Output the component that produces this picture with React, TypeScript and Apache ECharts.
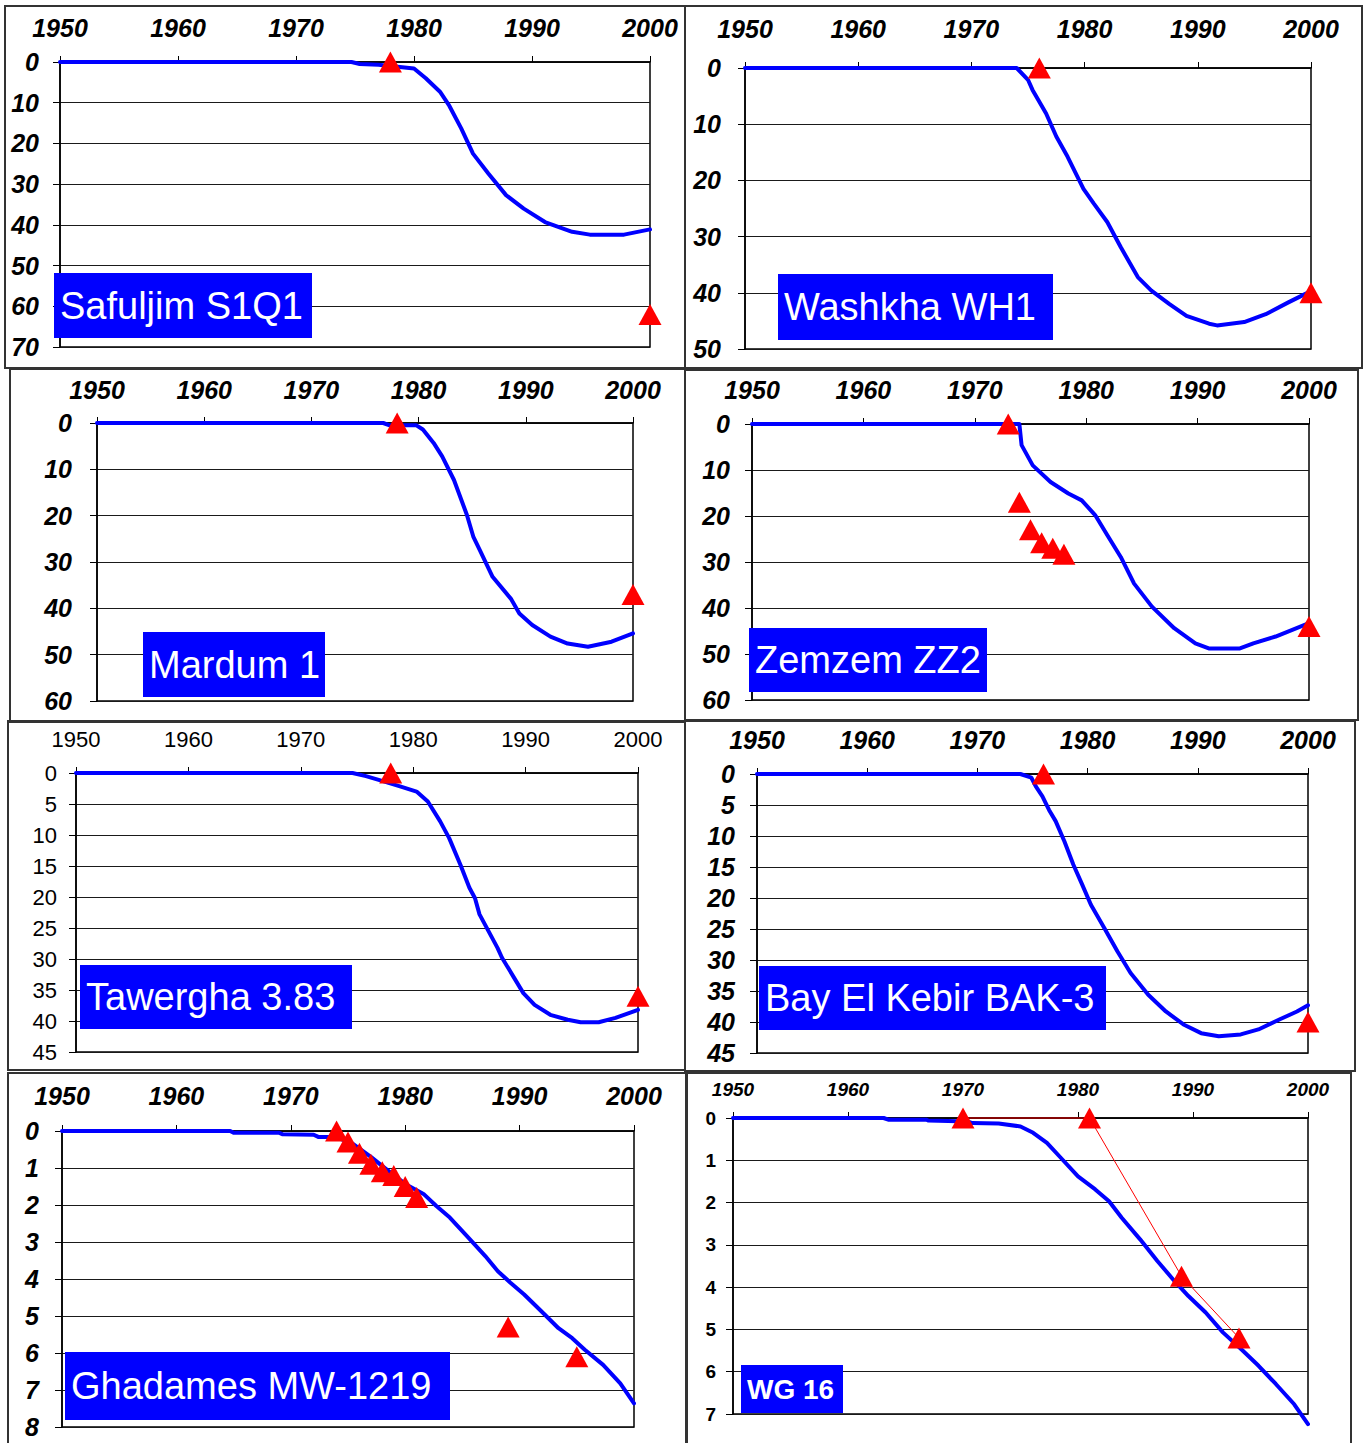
import React, { useEffect, useRef } from "react";
import * as echarts from "echarts";

// ---------- data (year, depth of water level below ground, m) ----------
const yearTicks = [1950, 1960, 1970, 1980, 1990, 2000];

const safuljimYears = [1950, 1974.7, 1975.4, 1977, 1979, 1980, 1981, 1982.2, 1983, 1984, 1985, 1986.3, 1987.8, 1989.3, 1991.1, 1993.4, 1994.9, 1997.8, 2000];
const safuljimDepth = [0, 0, 0.5, 0.7, 1.3, 1.6, 4, 7.3, 10.8, 16.3, 22.5, 27.4, 32.7, 36, 39.3, 41.7, 42.4, 42.4, 41.1];
const safuljimObsYears = [1978, 2000];
const safuljimObsDepth = [0, 62];

const washkhaYears = [1950, 1974, 1975, 1975.4, 1976.6, 1977.5, 1978.5, 1979.9, 1980.8, 1982, 1983.2, 1984.7, 1985.9, 1987.5, 1989, 1991, 1991.7, 1994.1, 1996, 1998, 2000];
const washkhaDepth = [0, 0, 2.1, 3.9, 8.1, 12.2, 15.8, 21.5, 24.1, 27.4, 31.9, 37.2, 39.6, 42, 44.1, 45.5, 45.8, 45.2, 43.8, 41.7, 39.7];
const washkhaObsYears = [1976, 2000];
const washkhaObsDepth = [0, 40];

const mardumYears = [1950, 1976.7, 1977.3, 1979.8, 1980.4, 1981.4, 1982.2, 1983.3, 1984.5, 1985.1, 1985.7, 1986.9, 1988.6, 1989.4, 1990.6, 1992.3, 1993.9, 1995.8, 1998, 2000];
const mardumDepth = [0, 0, 0.5, 0.5, 1.4, 4.3, 7.2, 12.3, 19.8, 24.5, 27.4, 33.2, 37.9, 41.1, 43.6, 46.1, 47.6, 48.3, 47.2, 45.4];
const mardumObsYears = [1978, 2000];
const mardumObsDepth = [0, 37];

const zemzemYears = [1950, 1974, 1974.2, 1975.2, 1976.8, 1978.4, 1979.6, 1980.8, 1981.9, 1983.1, 1984.3, 1985.9, 1987.9, 1989.8, 1991, 1993.8, 1995, 1997, 2000];
const zemzemDepth = [0, 0, 4.6, 9, 12.6, 15.1, 16.6, 19.8, 24.2, 28.9, 34.7, 39.7, 44.4, 47.7, 48.8, 48.8, 47.7, 46.2, 43.3];
const zemzemObsYears = [1973, 1974, 1975, 1976, 1977, 1978, 2000];
const zemzemObsDepth = [0, 17, 23, 25.8, 27, 28.3, 44];

const tawerghaYears = [1950, 1974.6, 1975.8, 1977.3, 1978.9, 1980.3, 1981.3, 1982.4, 1983.2, 1984.2, 1985, 1985.5, 1985.9, 1986.7, 1987.5, 1987.9, 1988.9, 1989.8, 1990.8, 1992.2, 1993.75, 1994.9, 1996.5, 1998, 2000];
const tawerghaDepth = [0, 0, 0.5, 1.3, 2.2, 3, 4.6, 7.8, 10.5, 14.8, 18.5, 20.2, 22.8, 25.5, 28.2, 29.8, 32.8, 35.5, 37.4, 39, 39.8, 40.2, 40.2, 39.5, 38.2];
const tawerghaObsYears = [1978, 2000];
const tawerghaObsDepth = [0, 36];

const kebirYears = [1950, 1973.9, 1974.9, 1975.3, 1975.9, 1976.5, 1977.1, 1977.9, 1978.7, 1979.5, 1980.3, 1981.5, 1982.7, 1983.9, 1985.5, 1987.1, 1988.7, 1990.3, 1991.9, 1993.9, 1995.5, 1997.4, 1999, 2000];
const kebirDepth = [0, 0, 0.6, 2, 3.6, 5.8, 7.6, 10.9, 14.6, 17.8, 21.1, 24.8, 28.6, 32.1, 35.6, 38.3, 40.4, 41.8, 42.3, 42, 41.2, 39.6, 38.3, 37.3];
const kebirObsYears = [1976, 2000];
const kebirObsDepth = [0, 40];

const ghadamesYears = [1950, 1964.7, 1965, 1969, 1969.3, 1972, 1972.4, 1973.9, 1975.4, 1977, 1978.5, 1980, 1981.6, 1982.7, 1983.9, 1985.4, 1987, 1988.1, 1989.2, 1990.4, 1991.9, 1993.4, 1994.6, 1995.7, 1997.3, 1998.8, 2000];
const ghadamesDepth = [0, 0, 0.05, 0.05, 0.09, 0.1, 0.16, 0.16, 0.34, 0.7, 1.07, 1.43, 1.7, 2.02, 2.34, 2.84, 3.38, 3.79, 4.1, 4.42, 4.87, 5.33, 5.6, 5.91, 6.32, 6.82, 7.36];
const ghadamesObsYears = [1974, 1975, 1976, 1977, 1978, 1979, 1980, 1981, 1989, 1995];
const ghadamesObsDepth = [0, 0.3, 0.6, 0.9, 1.1, 1.2, 1.5, 1.8, 5.3, 6.1];

const wg16Years = [1950, 1963.1, 1963.5, 1966.8, 1967, 1970.4, 1970.8, 1973.1, 1975, 1976.1, 1977.3, 1978.5, 1980, 1981.5, 1982.7, 1983.8, 1985.4, 1986.9, 1988.4, 1989.6, 1991.1, 1992.6, 1994.2, 1995.7, 1997.2, 1998.8, 2000];
const wg16Depth = [0, 0, 0.04, 0.04, 0.06, 0.08, 0.12, 0.13, 0.2, 0.35, 0.59, 0.94, 1.38, 1.69, 1.97, 2.36, 2.87, 3.38, 3.86, 4.21, 4.6, 5.07, 5.47, 5.86, 6.29, 6.77, 7.24];
const wg16ObsYears = [1970, 1981, 1989, 1994];
const wg16ObsDepth = [0, 0, 3.74, 5.2];

const wellNames = ["Safuljim S1Q1", "Washkha WH1", "Mardum 1", "Zemzem ZZ2", "Tawergha 3.83", "Bay El Kebir BAK-3", "Ghadames MW-1219", "WG 16"];
const depthMax = [70, 50, 60, 60, 45, 45, 8, 7];
const depthStep = [10, 10, 10, 10, 5, 5, 1, 1];

// ---------- layout / style ----------
const FONT = "'Liberation Sans', Arial, Helvetica, sans-serif";
const BLUE = "#0000ff";
const RED = "#ff0000";

type Font = { size: number; weight: string; style: string; margin: number };
type Layout = {
  grid: [number, number, number, number];
  frame: [number, number, number, number];
  box: [number, number, number, number];
  xFont: Font;
  yFont: Font;
  boxFont: { size: number; weight: string };
};

const bi = (size: number, margin: number): Font => ({ size, weight: "bold", style: "italic", margin });

const layouts: Layout[] = [
  { grid: [60, 62, 590, 285], frame: [5, 6, 680, 362], box: [54, 273, 258, 65], xFont: bi(25, 22), yFont: bi(25, 21), boxFont: { size: 38, weight: "normal" } },
  { grid: [745, 68, 566, 281], frame: [685, 6, 677, 362], box: [778, 274, 275, 66], xFont: bi(25, 27), yFont: bi(25, 24), boxFont: { size: 38, weight: "normal" } },
  { grid: [97, 423, 536, 278], frame: [10, 369, 675, 353], box: [143, 632, 182, 65], xFont: bi(25, 21), yFont: bi(25, 25), boxFont: { size: 38, weight: "normal" } },
  { grid: [752, 424, 557, 276], frame: [685, 370, 673, 350], box: [749, 628, 238, 64], xFont: bi(25, 22), yFont: bi(25, 22), boxFont: { size: 38, weight: "normal" } },
  { grid: [76, 773, 562, 279], frame: [8, 721, 677, 349], box: [80, 965, 272, 64], xFont: { size: 22, weight: "normal", style: "normal", margin: 23 }, yFont: { size: 22, weight: "normal", style: "normal", margin: 19 }, boxFont: { size: 38, weight: "normal" } },
  { grid: [757, 774, 551, 279], frame: [685, 721, 670, 350], box: [759, 966, 347, 64], xFont: bi(25, 22), yFont: bi(25, 22), boxFont: { size: 38, weight: "normal" } },
  { grid: [62, 1131, 572, 296], frame: [8, 1073, 678, 380], box: [65, 1352, 385, 68], xFont: bi(25, 23), yFont: bi(25, 23), boxFont: { size: 38, weight: "normal" } },
  { grid: [733, 1118, 575, 296], frame: [687, 1073, 664, 380], box: [741, 1365, 102, 48], xFont: bi(19, 19), yFont: { size: 19, weight: "bold", style: "normal", margin: 17 }, boxFont: { size: 28, weight: "bold" } },
];

const lineYears = [safuljimYears, washkhaYears, mardumYears, zemzemYears, tawerghaYears, kebirYears, ghadamesYears, wg16Years];
const lineDepths = [safuljimDepth, washkhaDepth, mardumDepth, zemzemDepth, tawerghaDepth, kebirDepth, ghadamesDepth, wg16Depth];
const obsYears = [safuljimObsYears, washkhaObsYears, mardumObsYears, zemzemObsYears, tawerghaObsYears, kebirObsYears, ghadamesObsYears, wg16ObsYears];
const obsDepths = [safuljimObsDepth, washkhaObsDepth, mardumObsDepth, zemzemObsDepth, tawerghaObsDepth, kebirObsDepth, ghadamesObsDepth, wg16ObsDepth];

const zip = (a: number[], b: number[]) => a.map((v, i) => [v, b[i]]);

function buildOption() {
  const grids: any[] = [];
  const xAxes: any[] = [];
  const yAxes: any[] = [];
  const series: any[] = [];
  const graphics: any[] = [];

  layouts.forEach((L, i) => {
    const [gl, gt, gw, gh] = L.grid;
    grids.push({
      left: gl, top: gt, width: gw, height: gh,
      show: true, borderColor: "#000", borderWidth: 1.5, backgroundColor: "transparent",
      containLabel: false,
    });
    xAxes.push({
      gridIndex: i, type: "value", position: "top",
      min: yearTicks[0], max: yearTicks[yearTicks.length - 1], interval: 10,
      axisLine: { show: true, onZero: false, lineStyle: { color: "#000", width: 1.5 } },
      axisTick: { show: true, length: 6, lineStyle: { color: "#000", width: 1 } },
      splitLine: { show: false },
      axisLabel: {
        color: "#000", fontFamily: FONT, fontSize: L.xFont.size, fontWeight: L.xFont.weight,
        fontStyle: L.xFont.style, margin: L.xFont.margin,
        formatter: (v: number) => String(v),
      },
    });
    yAxes.push({
      gridIndex: i, type: "value", inverse: true, min: 0, max: depthMax[i], interval: depthStep[i],
      axisLine: { show: true, onZero: false, lineStyle: { color: "#000", width: 1.5 } },
      axisTick: { show: true, length: 7, lineStyle: { color: "#000", width: 1 } },
      splitLine: { show: true, lineStyle: { color: "#1a1a1a", width: 1 } },
      axisLabel: {
        color: "#000", fontFamily: FONT, fontSize: L.yFont.size, fontWeight: L.yFont.weight,
        fontStyle: L.yFont.style, margin: L.yFont.margin,
        formatter: (v: number) => String(v),
      },
    });
    series.push({
      type: "line", xAxisIndex: i, yAxisIndex: i,
      data: zip(lineYears[i], lineDepths[i]),
      showSymbol: false, symbol: "none", clip: false, smooth: false,
      lineStyle: { color: BLUE, width: 4, cap: "round", join: "round" },
      z: 3,
    });
    const connected = i === 7;
    series.push({
      type: connected ? "line" : "scatter", xAxisIndex: i, yAxisIndex: i,
      data: zip(obsYears[i], obsDepths[i]),
      symbol: "triangle", symbolSize: [23, 21], showSymbol: true, clip: false,
      itemStyle: { color: RED, borderWidth: 0, opacity: 1 },
      lineStyle: { color: RED, width: 1 },
      z: 4,
    });

    const [fx, fy, fw, fh] = L.frame;
    graphics.push({
      type: "rect", shape: { x: fx, y: fy, width: fw, height: fh }, silent: true, z: 0,
      style: { fill: "none", stroke: "#333", lineWidth: 2 },
    });
    const [bx, by, bw, bh] = L.box;
    graphics.push({
      type: "rect", shape: { x: bx, y: by, width: bw, height: bh }, z: 100,
      style: { fill: BLUE },
    });
    graphics.push({
      type: "text", x: bx + 6, y: by + bh / 2, z: 101,
      style: {
        text: wellNames[i], fill: "#fff", fontFamily: FONT, fontSize: L.boxFont.size,
        fontWeight: L.boxFont.weight, verticalAlign: "middle", align: "left",
      },
    });
  });

  return {
    animation: false,
    backgroundColor: "#fff",
    grid: grids,
    xAxis: xAxes,
    yAxis: yAxes,
    series,
    graphic: { elements: graphics },
  };
}

export default function App() {
  const ref = useRef<HTMLDivElement>(null);
  useEffect(() => {
    if (!ref.current) return;
    const chart = echarts.init(ref.current, undefined, { renderer: "svg" });
    chart.setOption(buildOption());
    return () => chart.dispose();
  }, []);
  return (
    <div
      ref={ref}
      style={{ position: "absolute", left: 0, top: 0, width: 1372, height: 1443, background: "#fff" }}
    />
  );
}
